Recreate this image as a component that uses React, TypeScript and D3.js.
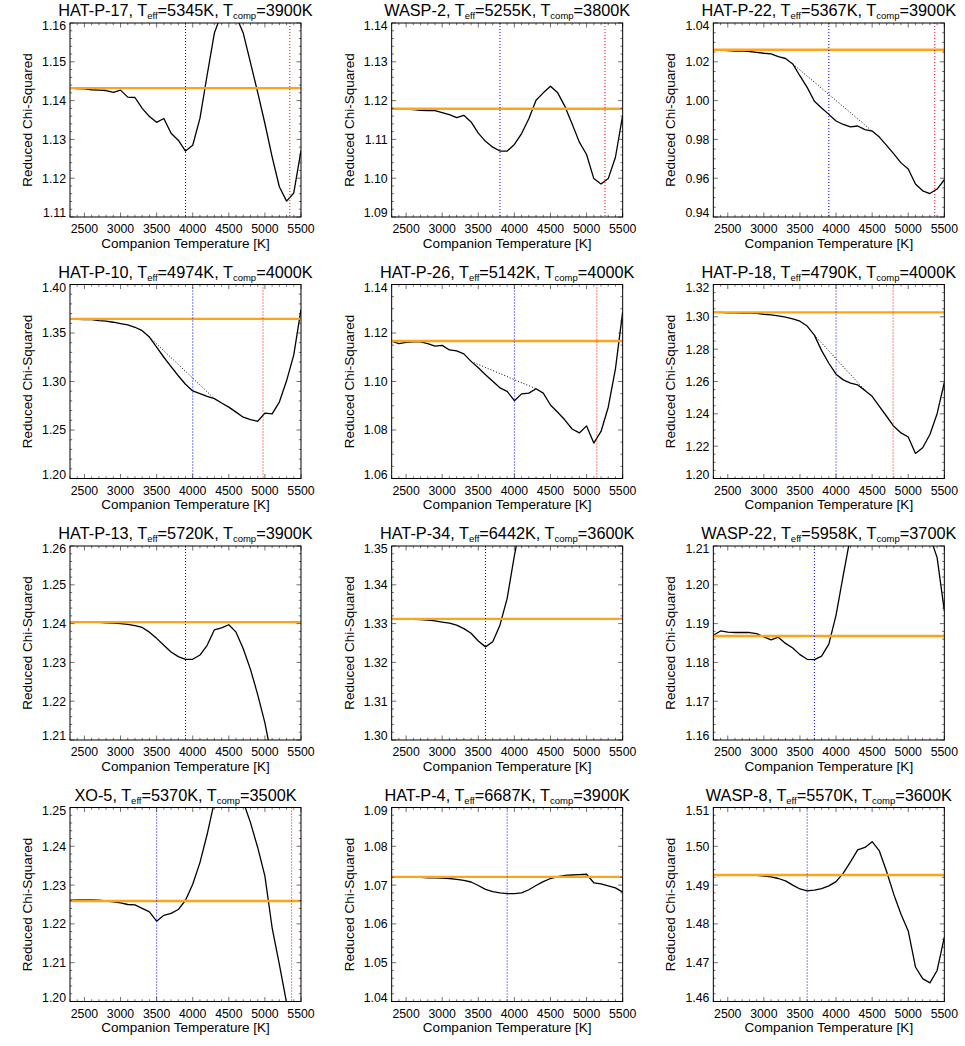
import * as d3 from 'd3';

const W = 965;
const H = 1046;

// temperature grid of the models [K]
const temps = [
  2300, 2400, 2500, 2600, 2700, 2800, 2900, 3000, 3100, 3200, 3300,
  3400, 3500, 3600, 3700, 3800, 3900, 4000, 4100, 4200, 4300, 4400,
  4500, 4600, 4700, 4800, 4900, 5000, 5100, 5200, 5300, 5400, 5500,
];
const xTickLabels = [2500, 3000, 3500, 4000, 4500, 5000, 5500];

const names = ['HAT-P-17', 'WASP-2', 'HAT-P-22', 'HAT-P-10', 'HAT-P-26', 'HAT-P-18',
  'HAT-P-13', 'HAT-P-34', 'WASP-22', 'XO-5', 'HAT-P-4', 'WASP-8'];
const teff = [5345, 5255, 5367, 4974, 5142, 4790, 5720, 6442, 5958, 5370, 6687, 5570];
const tcomp = [3900, 3800, 3900, 4000, 4000, 4000, 3900, 3600, 3700, 3500, 3900, 3600];
const singleStar = [1.1432, 1.1179, 1.0262, 1.3646, 1.1167, 1.3027, 1.2404, 1.3312, 1.1868, 1.2259, 1.0721, 1.4926];
const yLo = [1.11, 1.09, 0.94, 1.20, 1.06, 1.20, 1.21, 1.30, 1.16, 1.20, 1.04, 1.46];
const yHi = [1.16, 1.14, 1.04, 1.40, 1.14, 1.32, 1.26, 1.35, 1.21, 1.25, 1.09, 1.51];
const yStep = [0.01, 0.01, 0.02, 0.05, 0.02, 0.02, 0.01, 0.01, 0.01, 0.01, 0.01, 0.01];
const dotFrom = [null, null, 3400, 3400, 3400, 3700, null, null, null, null, null, null];
const dotTo = [null, null, 4500, 4300, 4300, 4400, null, null, null, null, null, null];

const hatP17 = [1.1432, 1.1431, 1.1430, 1.1428, 1.1427, 1.1426, 1.1421, 1.1427, 1.1409, 1.1408, 1.1380,
  1.1359, 1.1344, 1.1354, 1.1316, 1.1298, 1.1270, 1.1285, 1.1354, 1.1466, 1.1574, 1.1625,
  null, 1.1618, 1.1574, 1.1498, 1.1421, 1.1341, 1.1255, 1.1178, 1.1141, 1.1162, 1.1271];
const wasp2 = [1.1179, 1.1179, 1.1178, 1.1177, 1.1175, 1.1174, 1.1174, 1.1169, 1.1164, 1.1156, 1.1162,
  1.1145, 1.1116, 1.1095, 1.1080, 1.1070, 1.1070, 1.1087, 1.1115, 1.1153, 1.1201, 1.1220,
  1.1237, 1.1220, 1.1185, 1.1140, 1.1093, 1.1061, 1.0999, 1.0985, 1.0999, 1.1054, 1.1162];
const hatP22 = [1.0262, 1.0260, 1.0258, 1.0255, 1.0256, 1.0253, 1.0249, 1.0244, 1.0241, 1.0227, 1.0217,
  1.0189, 1.0127, 1.0068, 0.9997, 0.9962, 0.9929, 0.9895, 0.9877, 0.9865, 0.9869, 0.9850,
  0.9843, 0.9812, 0.9769, 0.9725, 0.9679, 0.9647, 0.9570, 0.9535, 0.9521, 0.9544, 0.9592];
const hatP10 = [1.3646, 1.3642, 1.3639, 1.3639, 1.3628, 1.3622, 1.3611, 1.3597, 1.3583, 1.3559, 1.3524,
  1.3458, 1.3354, 1.3250, 1.3153, 1.3059, 1.2972, 1.2903, 1.2875, 1.2847, 1.2823, 1.2778,
  1.2736, 1.2684, 1.2632, 1.2608, 1.2590, 1.2674, 1.2667, 1.2788, 1.3007, 1.3274, 1.3743];
const hatP26 = [1.1166, 1.1156, 1.1161, 1.1163, 1.1163, 1.1156, 1.1146, 1.1149, 1.1130, 1.1126, 1.1114,
  1.1083, 1.1057, 1.1028, 1.1001, 1.0974, 1.0959, 1.0921, 1.0949, 1.0952, 1.0970, 1.0952,
  1.0903, 1.0873, 1.0841, 1.0804, 1.0788, 1.0817, 1.0746, 1.0794, 1.0894, 1.1052, 1.1287];
const hatP18 = [1.3027, 1.3027, 1.3025, 1.3025, 1.3023, 1.3023, 1.3021, 1.3016, 1.3012, 1.3006, 1.2998,
  1.2988, 1.2973, 1.2943, 1.2887, 1.2791, 1.2713, 1.2645, 1.2610, 1.2590, 1.2579, 1.2545,
  1.2508, 1.2446, 1.2385, 1.2323, 1.2282, 1.2257, 1.2155, 1.2190, 1.2272, 1.2401, 1.2594];
const hatP13 = [1.2404, 1.2404, 1.2403, 1.2403, 1.2403, 1.2402, 1.2401, 1.2400, 1.2398, 1.2395, 1.2390,
  1.2378, 1.2362, 1.2344, 1.2327, 1.2315, 1.2308, 1.2308, 1.2319, 1.2344, 1.2384, 1.2389,
  1.2397, 1.2378, 1.2335, 1.2282, 1.2217, 1.2144, 1.2050, null, null, null, null];
const hatP34 = [1.3312, 1.3312, 1.3311, 1.3311, 1.3310, 1.3309, 1.3307, 1.3304, 1.3301, 1.3296, 1.3287,
  1.3275, 1.3255, 1.3240, 1.3253, 1.3296, 1.3365, 1.3475, 1.3570, null, null, null,
  null, null, null, null, null, null, null, null, null, null, null];
const wasp22 = [1.1870, 1.1881, 1.1878, 1.1877, 1.1877, 1.1877, 1.1874, 1.1866, 1.1858, 1.1865, 1.1849,
  1.1837, 1.1820, 1.1808, 1.1807, 1.1816, 1.1847, 1.1922, 1.2025, 1.2125, null, null,
  null, null, null, null, null, null, null, null, 1.2125, 1.2070, 1.1933];
const xo5 = [1.2261, 1.2262, 1.2262, 1.2262, 1.2261, 1.2259, 1.2257, 1.2254, 1.2250, 1.2249, 1.2240,
  1.2231, 1.2207, 1.2222, 1.2227, 1.2237, 1.2261, 1.2302, 1.2358, 1.2431, 1.2515, null,
  null, null, 1.2515, 1.2461, 1.2397, 1.2323, 1.2190, 1.2096, 1.1997, null, null];
const hatP4 = [1.0721, 1.0721, 1.0721, 1.0720, 1.0720, 1.0719, 1.0719, 1.0718, 1.0717, 1.0715, 1.0712,
  1.0708, 1.0699, 1.0689, 1.0683, 1.0680, 1.0678, 1.0678, 1.0680, 1.0688, 1.0699, 1.0709,
  1.0717, 1.0722, 1.0725, 1.0726, 1.0727, 1.0728, 1.0706, 1.0703, 1.0698, 1.0693, 1.0682];
const wasp8 = [1.4926, 1.4926, 1.4926, 1.4926, 1.4926, 1.4926, 1.4925, 1.4923, 1.4921, 1.4917, 1.4911,
  1.4900, 1.4890, 1.4885, 1.4887, 1.4891, 1.4898, 1.4909, 1.4931, 1.4960, 1.4991, 1.4997,
  1.5012, 1.4988, 1.4935, 1.4876, 1.4825, 1.4782, 1.4689, 1.4659, 1.4648, 1.4680, 1.4766];

const series = [hatP17, wasp2, hatP22, hatP10, hatP26, hatP18, hatP13, hatP34, wasp22, xo5, hatP4, wasp8];

// layout
const cellW = W / 3;
const cellH = H / 4;
const padL = 70;
const padT = 23;
const PW = 231;
const PH = 194;
const FONT = "'Liberation Sans', Arial, Helvetica, sans-serif";

const Panel = ({ i }: { i: number }) => {
  const col = i % 3;
  const row = Math.floor(i / 3);
  const cx = col * cellW;
  const cy = row * cellH;
  const ox = cx + padL;
  const oy = cy + padT;

  const x = d3.scaleLinear().domain([2300, 5500]).range([0, PW]);
  const y = d3.scaleLinear().domain([yLo[i], yHi[i]]).range([PH, 0]);

  const vals = series[i];
  const line = d3.line<number | null>()
    .defined(d => d != null)
    .x((_, k) => x(temps[k]))
    .y(d => y(d as number));

  // y ticks
  const step = yStep[i];
  const nMaj = Math.round((yHi[i] - yLo[i]) / step);
  const yMaj = d3.range(nMaj + 1).map(k => yLo[i] + k * step);
  const lead = Math.round(step / Math.pow(10, Math.floor(Math.log10(step) + 1e-9)));
  const nMin = lead === 2 ? 4 : 5;
  const yMin = d3.range(nMaj * nMin + 1).map(k => yLo[i] + k * step / nMin);
  const xMin = d3.range(2300, 5501, 100);

  const majLen = 4.5;
  const minLen = 2.2;

  let dotPath: string | null = null;
  if (dotFrom[i] != null && dotTo[i] != null) {
    const a = temps.indexOf(dotFrom[i] as number);
    const b = temps.indexOf(dotTo[i] as number);
    dotPath = d3.line<[number, number]>()
      .x(d => x(d[0]))
      .y(d => y(d[1]))([[temps[a], vals[a] as number], [temps[b], vals[b] as number]]);
  }

  const clipId = `clip-${i}`;
  const labelY = (ty: number) => Math.min(Math.max(ty, 3), PH - 4) + 4.4;

  return (
    <g>
      <text x={ox + PW / 2} y={cy + 16} textAnchor="middle" fontSize={16.3} fill="#000">
        {`${names[i]}, T`}
        <tspan fontSize={9.5} dy={3}>eff</tspan>
        <tspan fontSize={16.3} dy={-3}>{`=${teff[i]}K, T`}</tspan>
        <tspan fontSize={9.5} dy={3}>comp</tspan>
        <tspan fontSize={16.3} dy={-3}>{`=${tcomp[i]}K`}</tspan>
      </text>

      <g transform={`translate(${ox},${oy})`}>
        <defs>
          <clipPath id={clipId}>
            <rect x={0} y={0} width={PW} height={PH} />
          </clipPath>
        </defs>

        <g clipPath={`url(#${clipId})`}>
          <path d={line(vals) || ''} fill="none" stroke="#000" strokeWidth={1.3} strokeLinejoin="round" />
          {dotPath && (
            <path d={dotPath} fill="none" stroke="#000" strokeWidth={1} strokeDasharray="1 2" />
          )}
          <line x1={0} x2={PW} y1={y(singleStar[i])} y2={y(singleStar[i])} stroke="#ffa31a" strokeWidth={2.3} />
          <line x1={x(tcomp[i])} x2={x(tcomp[i])} y1={0} y2={PH} stroke="#0000ff" strokeWidth={1} strokeDasharray="1 2" />
          {teff[i] <= 5500 && (
            <line x1={x(teff[i])} x2={x(teff[i])} y1={0} y2={PH} stroke="#ff0000" strokeWidth={1} strokeDasharray="1 2" />
          )}
        </g>

        {/* ticks, IDL style: inward on all four sides */}
        <g stroke="#333" strokeWidth={0.7}>
          {xMin.map(t => {
            const len = xTickLabels.includes(t) ? majLen : minLen;
            return (
              <g key={`x${t}`}>
                <line x1={x(t)} x2={x(t)} y1={PH} y2={PH - len} />
                <line x1={x(t)} x2={x(t)} y1={0} y2={len} />
              </g>
            );
          })}
          {yMin.map((v, k) => {
            const len = k % nMin === 0 ? majLen : minLen;
            return (
              <g key={`y${k}`}>
                <line x1={0} x2={len} y1={y(v)} y2={y(v)} />
                <line x1={PW} x2={PW - len} y1={y(v)} y2={y(v)} />
              </g>
            );
          })}
        </g>
        <rect x={0} y={0} width={PW} height={PH} fill="none" stroke="#000" strokeWidth={1} />

        {xTickLabels.map(t => (
          <text key={t} x={x(t)} y={PH + 16} textAnchor="middle" fontSize={12.3}>{t}</text>
        ))}
        {yMaj.map((v, k) => (
          <text key={k} x={-4} y={labelY(y(v))} textAnchor="end" fontSize={12.3}>{v.toFixed(2)}</text>
        ))}

        <text x={PW / 2} y={PH + 30.5} textAnchor="middle" fontSize={13.5}>Companion Temperature [K]</text>
        <text transform={`translate(${-padL + 32},${PH / 2}) rotate(-90)`} textAnchor="middle" fontSize={13.5}>
          Reduced Chi-Squared
        </text>
      </g>
    </g>
  );
};

export default function App() {
  return (
    <svg
      width={W}
      height={H}
      fontFamily={FONT}
      style={{ position: 'absolute', left: 0, top: 0, background: '#fff' }}
    >
      {names.map((_, i) => <Panel key={i} i={i} />)}
    </svg>
  );
}
